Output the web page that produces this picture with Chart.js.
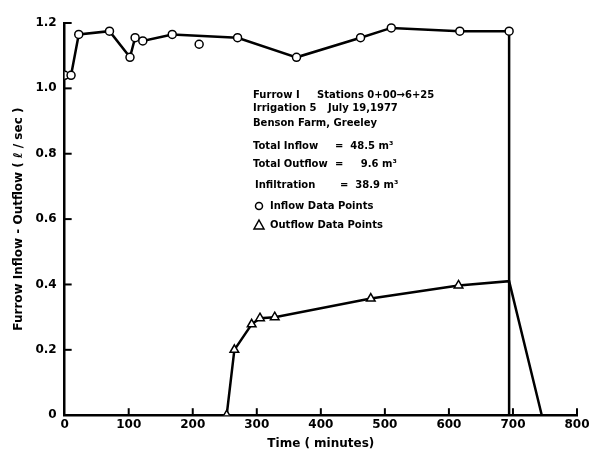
<!DOCTYPE html>
<html>
<head>
<meta charset="utf-8">
<script src="https://cdn.jsdelivr.net/npm/chart.js@4"></script>
<style>
html, body { margin: 0; padding: 0; background: #fff; }
#wrap { width: 599px; height: 451px; }
</style>
</head>
<body>
<div id="wrap"><canvas id="chart"></canvas></div>
<script>
// inflow readings (minutes, l/sec)
const inflowTime = [0, 10, 22, 70, 102, 110, 122, 168, 270, 362, 462, 510, 617, 694, 694];
const inflowRate = [1.04, 1.04, 1.165, 1.175, 1.095, 1.155, 1.145, 1.165, 1.155, 1.095, 1.155, 1.185, 1.175, 1.175, 0];
// stray inflow point not on the line
const strayTime = [210];
const strayRate = [1.135];
// outflow readings
const outflowTime = [253, 265, 292, 305, 328, 478, 615, 694, 745];
const outflowRate = [0, 0.2, 0.278, 0.297, 0.3, 0.357, 0.397, 0.41, 0];

const xTicks = [0, 100, 200, 300, 400, 500, 600, 700, 800];
const yTicks = [0, 0.2, 0.4, 0.6, 0.8, 1.0, 1.2];

Chart.defaults.font.family = 'DejaVu Sans';
Chart.defaults.font.size = 12;
Chart.defaults.font.weight = 'bold';
Chart.defaults.color = '#000';

// short tick marks drawn inside the axes, plus the text block
const extras = {
  id: 'extras',
  afterDraw(chart) {
    const ctx = chart.ctx;
    const xs = chart.scales.x, ys = chart.scales.y;
    const a = chart.chartArea;
    ctx.save();
    ctx.strokeStyle = '#000';
    ctx.lineWidth = 2;
    xTicks.forEach(v => {
      if (v === 0) return;
      const px = xs.getPixelForValue(v);
      ctx.beginPath(); ctx.moveTo(px, a.bottom); ctx.lineTo(px, a.bottom - 7); ctx.stroke();
    });
    yTicks.forEach(v => {
      if (v === 0) return;
      const py = ys.getPixelForValue(v);
      ctx.beginPath(); ctx.moveTo(a.left, py); ctx.lineTo(a.left + 7, py); ctx.stroke();
    });

    ctx.fillStyle = '#000';
    ctx.font = 'bold 10px "DejaVu Sans"';
    ctx.textBaseline = 'middle';
    ctx.textAlign = 'left';
    ctx.fillText('Furrow I', 253, 95);
    ctx.fillText('Stations 0+00\u21926+25', 317, 95);
    ctx.fillText('Irrigation 5', 253, 108);
    ctx.fillText('July 19,1977', 328, 108);
    ctx.fillText('Benson Farm, Greeley', 253, 123);
    ctx.fillText('Total Inflow', 253, 146);
    ctx.fillText('=  48.5 m\u00b3', 335, 146);
    ctx.fillText('Total Outflow', 253, 164);
    ctx.fillText('=     9.6 m\u00b3', 335, 164);
    ctx.fillText('Infiltration', 255, 185);
    ctx.fillText('=  38.9 m\u00b3', 340, 185);
    ctx.fillText('Inflow Data Points', 270, 206);
    ctx.fillText('Outflow Data Points', 270, 225);
    ctx.lineWidth = 1.5;
    ctx.beginPath(); ctx.arc(259, 206, 3.5, 0, Math.PI * 2); ctx.stroke();
    ctx.beginPath(); ctx.moveTo(259, 220); ctx.lineTo(264, 229); ctx.lineTo(254, 229); ctx.closePath(); ctx.stroke();
    ctx.restore();
  }
};

new Chart(document.getElementById('chart'), {
  type: 'scatter',
  data: {
    datasets: [
      {
        label: 'Inflow',
        data: inflowTime.map((t, i) => ({ x: t, y: inflowRate[i] })),
        showLine: true,
        borderColor: '#000',
        borderWidth: 2.5,
        backgroundColor: '#fff',
        pointBorderColor: '#000',
        pointBorderWidth: 1.5,
        pointRadius: inflowTime.map((t, i) => i === inflowTime.length - 1 ? 0 : 4),
        pointStyle: 'circle'
      },
      {
        label: 'Inflow stray',
        data: strayTime.map((t, i) => ({ x: t, y: strayRate[i] })),
        showLine: false,
        backgroundColor: '#fff',
        pointBorderColor: '#000',
        pointBorderWidth: 1.5,
        pointRadius: 4
      },
      {
        label: 'Outflow',
        data: outflowTime.map((t, i) => ({ x: t, y: outflowRate[i] })),
        showLine: true,
        borderColor: '#000',
        borderWidth: 2.5,
        backgroundColor: '#fff',
        pointBorderColor: '#000',
        pointBorderWidth: 1.5,
        pointRadius: outflowTime.map((t, i) => i >= outflowTime.length - 2 ? 0 : 5),
        pointStyle: 'triangle'
      }
    ]
  },
  options: {
    responsive: true,
    maintainAspectRatio: false,
    animation: false,
    layout: { padding: { top: 23, right: 22, left: 12, bottom: 0 } },
    plugins: { legend: { display: false }, tooltip: { enabled: false } },
    scales: {
      x: {
        type: 'linear',
        min: 0, max: 800,
        afterBuildTicks: s => { s.ticks = xTicks.map(v => ({ value: v })); },
        grid: { display: false, drawTicks: false },
        border: { display: true, color: '#000', width: 2.5 },
        ticks: { padding: 2, maxRotation: 0, callback: v => String(v) },
        title: { display: true, text: 'Time ( minutes)', padding: { top: 3, bottom: 0 } }
      },
      y: {
        min: 0, max: 1.2,
        afterBuildTicks: s => { s.ticks = yTicks.map(v => ({ value: v })); },
        grid: { display: false, drawTicks: false },
        border: { display: true, color: '#000', width: 2.5 },
        ticks: { padding: 8, callback: v => v === 0 ? '0' : v.toFixed(1) },
        title: { display: true, text: 'Furrow Inflow - Outflow ( \u2113 / sec )', padding: { top: 0, bottom: 1 } }
      }
    }
  },
  plugins: [extras]
});
</script>
</body>
</html>
